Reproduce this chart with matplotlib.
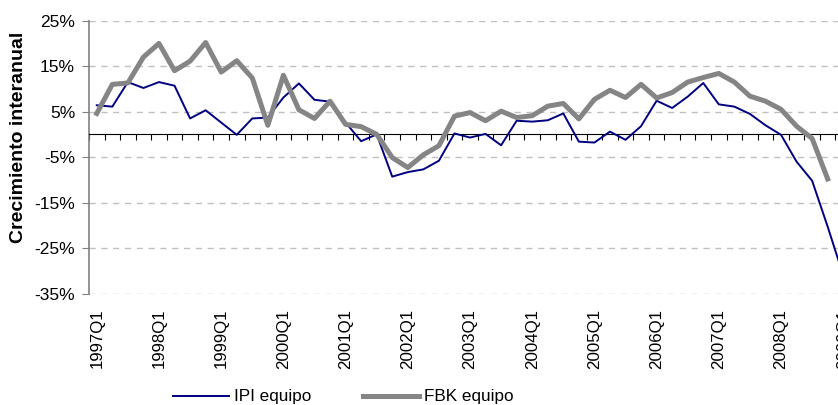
import numpy as np
import matplotlib.pyplot as plt

plt.rcParams['font.family'] = ['Liberation Sans', 'DejaVu Sans']

# quarterly categories 1997Q1 .. 2009Q1
quarters = [f"{y}Q{q}" for y in range(1997, 2010) for q in range(1, 5)][:49]

ipi_equipo = [6.4, 6.1, 11.5, 10.2, 11.5, 10.7, 3.5, 5.3, 2.6, -0.1, 3.5, 3.7,
              8.1, 11.2, 7.6, 7.2, 2.6, -1.5, 0.0, -9.3, -8.3, -7.7, -5.8, 0.2,
              -0.7, 0.1, -2.4, 3.0, 2.8, 3.1, 4.6, -1.6, -1.8, 0.6, -1.2, 1.8,
              7.4, 5.8, 8.3, 11.3, 6.6, 6.1, 4.5, 2.0, -0.1, -6.0, -10.2, -20.3,
              -31.0]
fbk_equipo = [4.6, 11.0, 11.3, 17.0, 20.0, 14.0, 16.1, 20.2, 13.7, 16.2, 12.4, 2.0,
              13.0, 5.4, 3.5, 7.3, 2.2, 1.7, 0.0, -5.1, -7.3, -4.5, -2.5, 4.0,
              4.8, 3.0, 5.1, 3.7, 4.1, 6.2, 6.8, 3.4, 7.7, 9.7, 8.1, 11.0,
              8.0, 9.2, 11.5, 12.5, 13.4, 11.5, 8.4, 7.3, 5.5, 1.8, -0.9, -9.8]

yticks = [-35, -25, -15, -5, 5, 15, 25]

fig = plt.figure(figsize=(8.38, 4.05), dpi=100)
# axes extends past the right edge on purpose (chart is cropped there)
ax = fig.add_axes([89 / 838, 1 - 293.5 / 405, 762 / 838, 272.8 / 405])

x = np.arange(len(quarters)) + 0.5
ax.plot(x, ipi_equipo, color='#000080', lw=1.4, label='IPI equipo', zorder=3)
ax.plot(x[:len(fbk_equipo)], fbk_equipo, color='#858585', lw=3.6,
        label='FBK equipo', zorder=4)

ax.set_xlim(0, len(quarters))
ax.set_ylim(-35, 25)

# gridlines
ax.set_yticks(yticks)
ax.set_yticklabels([f"{v}%" for v in yticks], fontsize=12.5)
ax.yaxis.grid(True, color='#c0c0c0', linestyle=(0, (4.5, 4)), lw=1)
ax.set_axisbelow(True)

ax.spines['top'].set_visible(False)
ax.spines['right'].set_visible(False)
ax.spines['left'].set_color('#808080')
ax.spines['left'].set_linewidth(1.2)
ax.tick_params(axis='y', direction='out', length=5, color='#808080', pad=5)

# horizontal axis at zero with tick marks between categories
ax.spines['bottom'].set_position(('data', 0))
ax.spines['bottom'].set_color('black')
ax.set_xticks(np.arange(0, len(quarters) + 1))
ax.tick_params(axis='x', direction='out', length=4.5, color='black',
               labelbottom=False)

# category labels at the bottom of the plot
sec = ax.secondary_xaxis(0.0)
sec.spines['bottom'].set_visible(False)
q1_pos = [i + 0.5 for i, q in enumerate(quarters) if q.endswith('Q1')]
q1_lab = [q for q in quarters if q.endswith('Q1')]
sec.set_xticks(q1_pos)
sec.set_xticklabels(q1_lab, rotation=90, fontsize=12.2)
sec.tick_params(axis='x', length=0, pad=11)

ax.set_ylabel('Crecimiento interanual', fontsize=14, fontweight='bold')
ax.yaxis.set_label_coords(-0.0814, 0.572)

fig.legend(loc='center', bbox_to_anchor=(343 / 838, 1 - 397 / 405), ncol=2,
           frameon=False, fontsize=12.3, handlelength=3.3, handletextpad=0.3,
           columnspacing=3.0)

fig.savefig('out.png', dpi=100)
